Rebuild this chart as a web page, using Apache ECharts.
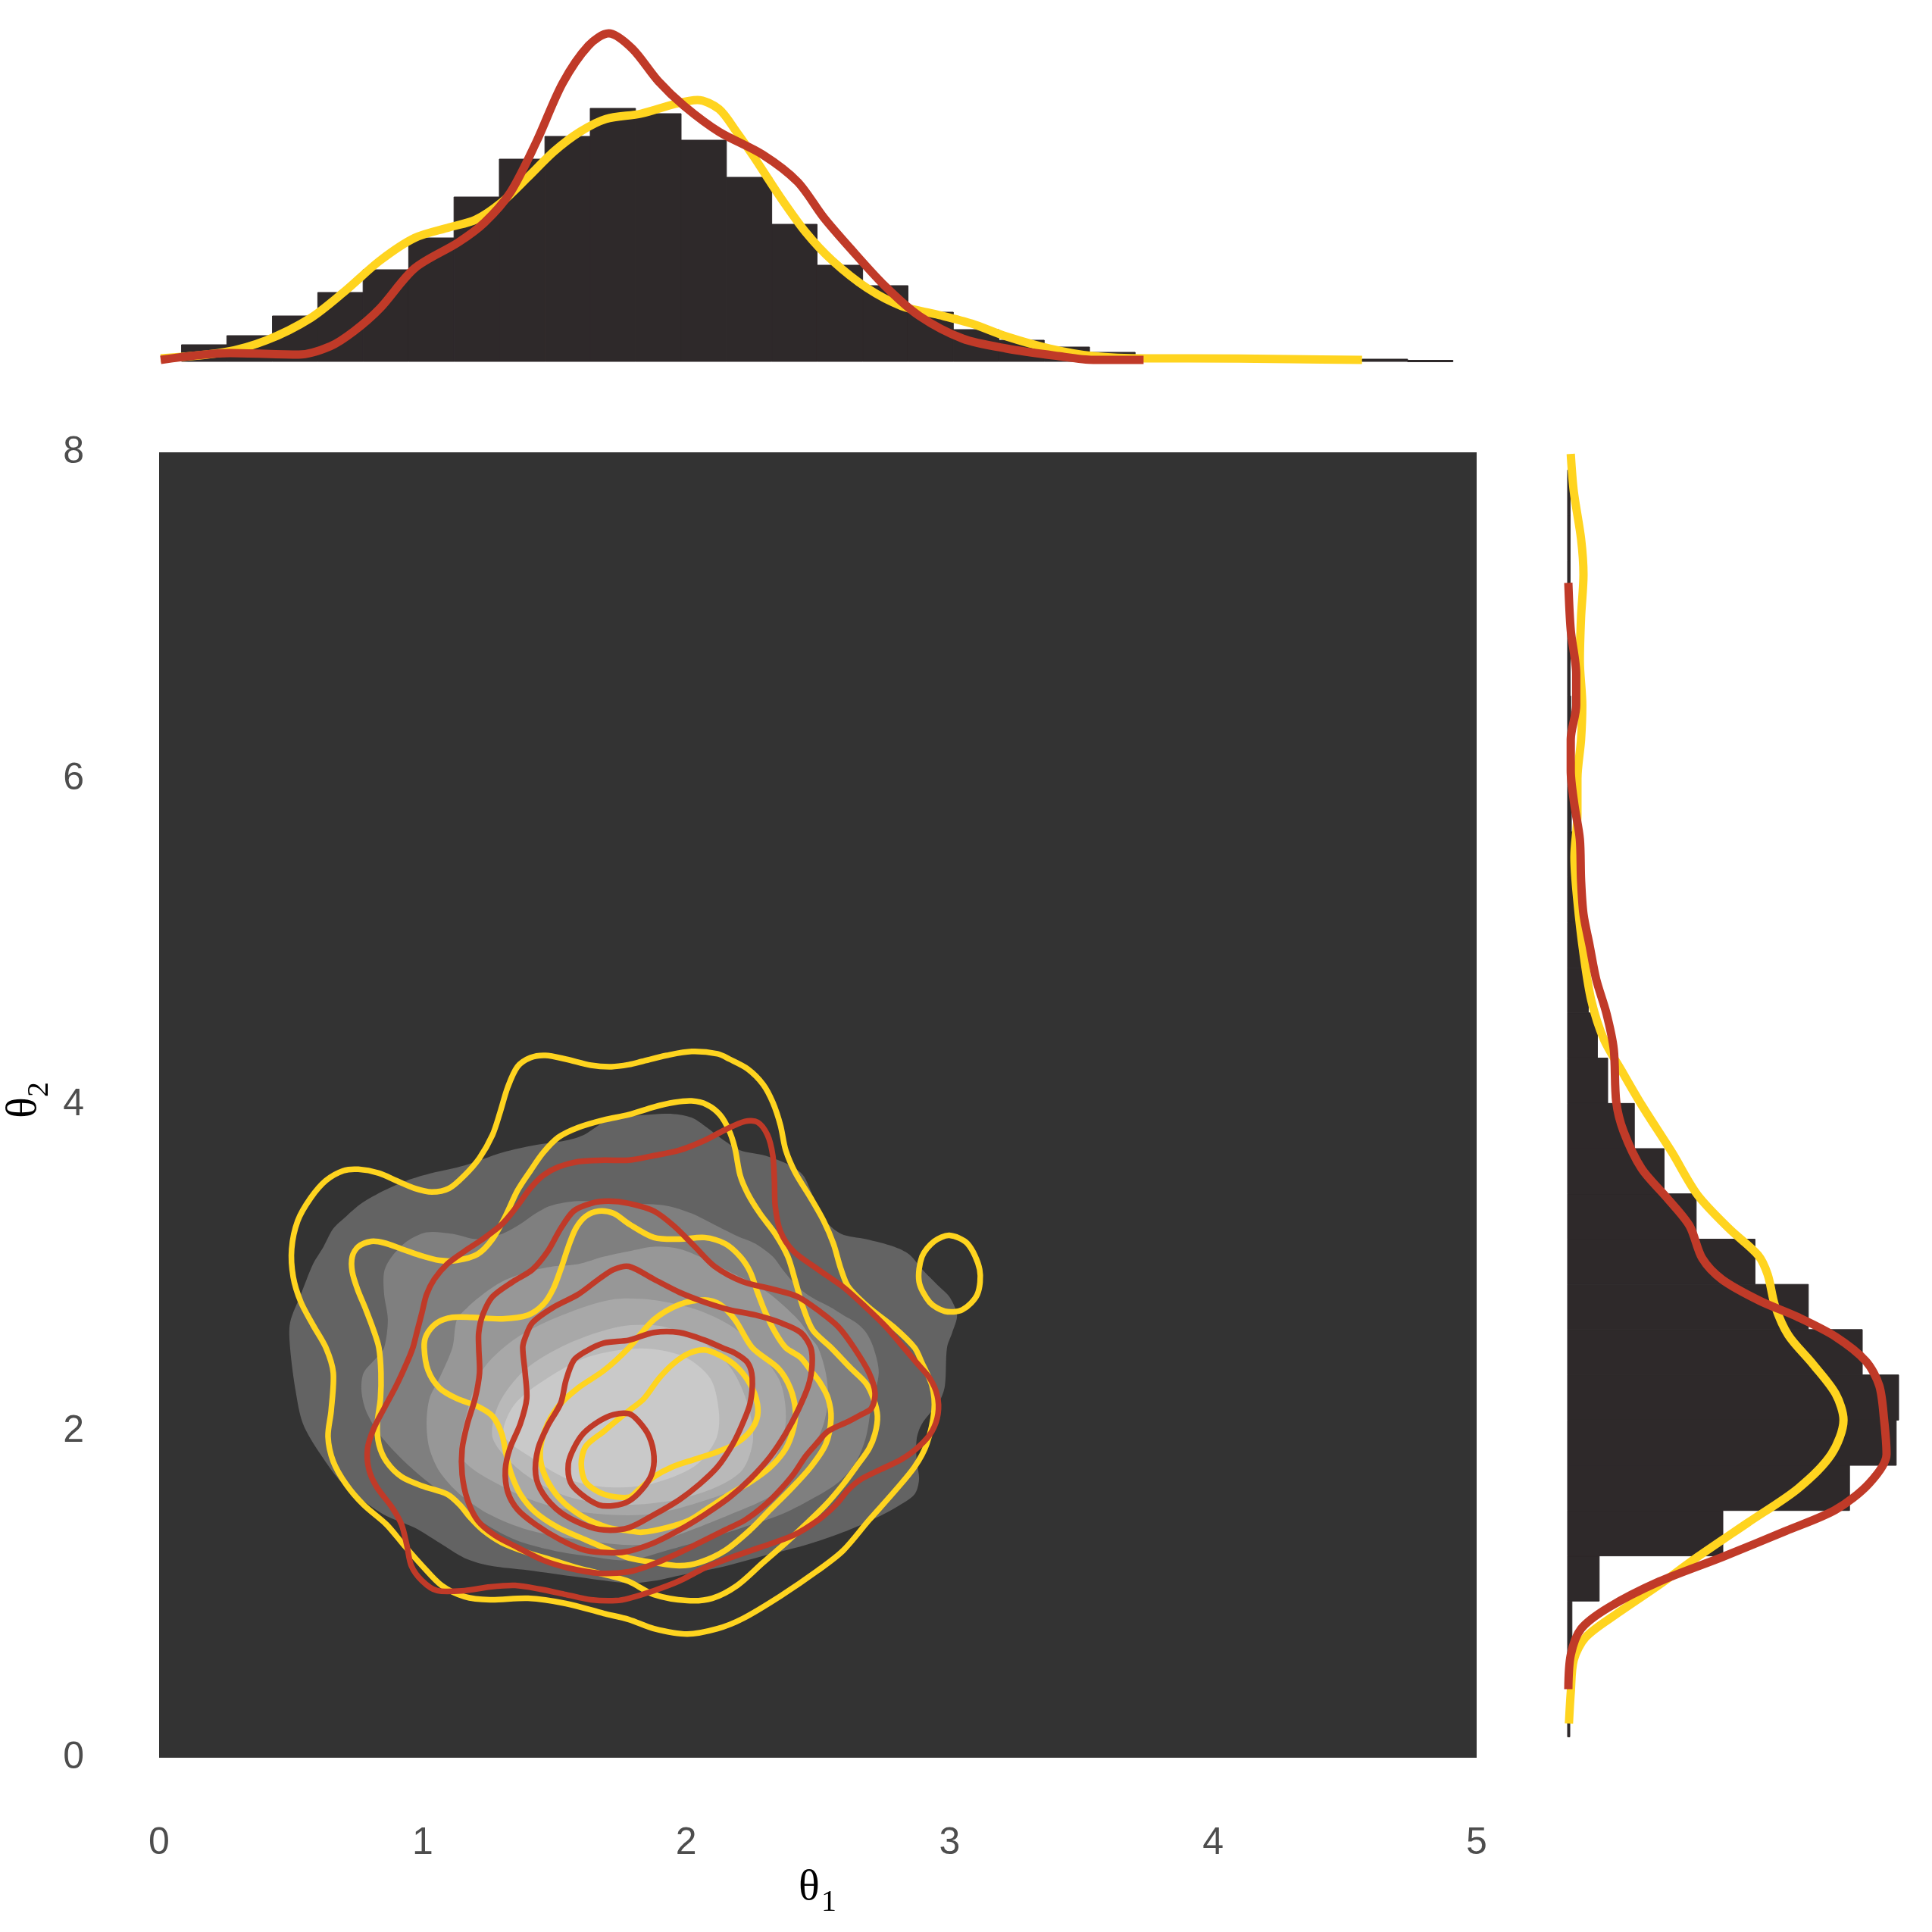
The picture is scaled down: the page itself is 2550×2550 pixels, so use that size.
<!DOCTYPE html>
<html>
<head>
<meta charset="utf-8">
<script src="https://cdn.jsdelivr.net/npm/echarts@6/dist/echarts.min.js"></script>
<style>
  html, body { margin: 0; background: #ffffff; }
  #chart { width: 2550px; height: 2550px; }
</style>
</head>
<body>
<div id="chart"></div>
<script>
// ---- marginal histogram of theta1 (bin edges, density) ----
var topEdges = [0.085, 0.257, 0.430, 0.602, 0.774, 0.947, 1.119, 1.291, 1.464, 1.636, 1.808, 1.981, 2.153, 2.325,
  2.497, 2.670, 2.842, 3.014, 3.187, 3.359, 3.531, 3.704, 3.876, 4.048, 4.221, 4.393, 4.565, 4.738, 4.910]
var topHist = [0.044, 0.068, 0.12, 0.182, 0.242, 0.326, 0.434, 0.534, 0.594, 0.668, 0.654, 0.584, 0.486, 0.362,
  0.254, 0.2, 0.13, 0.084, 0.056, 0.038, 0.024, 0.016, 0.012, 0.008, 0.006, 0.004, 0.006, 0.003]

// ---- density curves for theta1 ----
var topRedX = [0.006, 0.27, 0.53, 0.65, 0.74, 0.838, 0.97, 1.135, 1.234, 1.333, 1.432, 1.531, 1.63, 1.706, 1.795,
  1.894, 1.993, 2.125, 2.29, 2.423, 2.522, 2.621, 2.753, 2.885, 3.05, 3.215, 3.413, 3.545, 3.736]
var topRedY = [0.004, 0.022, 0.018, 0.04, 0.08, 0.14, 0.246, 0.314, 0.366, 0.446, 0.58, 0.734, 0.834, 0.866, 0.826,
  0.74, 0.674, 0.606, 0.546, 0.474, 0.38, 0.3, 0.2, 0.12, 0.06, 0.034, 0.014, 0.004, 0.004]
var topYellowX = [0.006, 0.245, 0.408, 0.574, 0.706, 0.838, 0.97, 1.102, 1.201, 1.3, 1.399, 1.498, 1.597, 1.696,
  1.829, 1.96, 2.043, 2.125, 2.191, 2.257, 2.357, 2.455, 2.555, 2.686, 2.818, 2.951, 3.083, 3.215, 3.38, 3.545,
  3.744, 3.905, 4.29, 4.565]
var topYellowY = [0.008, 0.024, 0.056, 0.114, 0.186, 0.266, 0.326, 0.354, 0.374, 0.42, 0.486, 0.554, 0.606, 0.64,
  0.654, 0.68, 0.69, 0.666, 0.606, 0.54, 0.434, 0.34, 0.266, 0.194, 0.146, 0.124, 0.1, 0.066, 0.034, 0.014,
  0.008, 0.008, 0.006, 0.004]

// ---- marginal histogram of theta2 ----
var rightEdges = [0.128, 0.405, 0.683, 0.960, 1.237, 1.515, 1.792, 2.069, 2.346, 2.624, 2.901, 3.178, 3.456, 3.733,
  4.010, 4.288, 4.565, 4.842, 5.119, 5.397, 5.674, 5.951, 6.229, 6.506, 6.783, 7.060, 7.338, 7.615, 7.892]
var rightHist = [0.0025, 0.004, 0.006, 0.051, 0.255, 0.464, 0.541, 0.545, 0.485, 0.396, 0.308, 0.211, 0.158, 0.109,
  0.065, 0.048, 0.033, 0.023, 0.013, 0.008, 0.005, 0.004, 0.004, 0.003, 0.003, 0.003, 0.003, 0.003]

// ---- density curves for theta2 ----
var rightYellowY = [0.21, 0.40, 0.60, 0.74, 0.88, 1.06, 1.23, 1.44, 1.65, 1.86, 2.07, 2.23, 2.41, 2.59, 2.77, 2.96,
  3.08, 3.24, 3.45, 3.71, 4.00, 4.21, 4.40, 4.64, 4.93, 5.25, 5.52, 5.78, 6.00, 6.24, 6.45, 6.72, 6.99, 7.25, 7.47,
  7.76, 7.99]
var rightYellowX = [0.001, 0.004, 0.009, 0.029, 0.079, 0.15, 0.213, 0.296, 0.379, 0.434, 0.454, 0.441, 0.404, 0.363,
  0.341, 0.329, 0.313, 0.266, 0.213, 0.171, 0.121, 0.088, 0.059, 0.038, 0.025, 0.015, 0.01, 0.015, 0.015, 0.021,
  0.023, 0.019, 0.021, 0.025, 0.021, 0.009, 0.004]
var rightRedY = [0.42, 0.63, 0.79, 0.92, 1.08, 1.23, 1.39, 1.52, 1.68, 1.86, 2.07, 2.28, 2.43, 2.58, 2.70, 2.80, 2.93,
  3.06, 3.26, 3.43, 3.61, 3.84, 4.02, 4.34, 4.56, 4.77, 4.98, 5.17, 5.38, 5.63, 5.84, 6.05, 6.24, 6.45, 6.64, 6.91,
  7.20]
var rightRedX = [0, 0.004, 0.021, 0.066, 0.15, 0.254, 0.359, 0.441, 0.496, 0.525, 0.521, 0.513, 0.491, 0.441, 0.379,
  0.316, 0.254, 0.221, 0.2, 0.163, 0.121, 0.091, 0.079, 0.075, 0.063, 0.046, 0.035, 0.025, 0.021, 0.019, 0.01,
  0.004, 0.004, 0.013, 0.013, 0.004, 0]

// ---- filled density contours (theta1, theta2), outer to inner ----
var fillLevel1 = [[1.783, 3.932], [1.947, 3.946], [2.021, 3.923], [2.079, 3.862], [2.128, 3.802], [2.205, 3.723],
  [2.300, 3.690], [2.395, 3.630], [2.444, 3.569], [2.481, 3.443], [2.522, 3.304], [2.588, 3.211], [2.683, 3.178],
  [2.789, 3.132], [2.846, 3.085], [2.904, 2.978], [2.953, 2.899], [2.999, 2.825], [3.028, 2.713], [3.010, 2.606],
  [2.990, 2.513], [2.982, 2.280], [2.962, 2.187], [2.895, 2.047], [2.875, 1.954], [2.875, 1.815], [2.884, 1.708],
  [2.867, 1.615], [2.798, 1.536], [2.703, 1.456], [2.596, 1.382], [2.453, 1.303], [2.263, 1.224], [2.119, 1.163],
  [1.975, 1.117], [1.878, 1.084], [1.783, 1.070], [1.590, 1.107], [1.400, 1.149], [1.256, 1.177], [1.159, 1.224],
  [1.064, 1.317], [0.969, 1.410], [0.871, 1.475], [0.796, 1.550], [0.699, 1.675], [0.612, 1.861], [0.546, 2.047],
  [0.518, 2.248], [0.497, 2.513], [0.497, 2.666], [0.538, 2.839], [0.584, 3.025], [0.624, 3.132], [0.661, 3.243],
  [0.710, 3.318], [0.768, 3.397], [0.854, 3.476], [0.940, 3.537], [1.035, 3.583], [1.159, 3.630], [1.302, 3.709],
  [1.429, 3.755], [1.544, 3.783], [1.610, 3.816], [1.668, 3.876], [1.717, 3.923]]
var fillLevel2 = [[0.854, 2.513], [0.868, 2.685], [0.854, 2.839], [0.854, 2.978], [0.883, 3.071], [0.940, 3.164],
  [1.015, 3.220], [1.113, 3.211], [1.208, 3.178], [1.302, 3.211], [1.371, 3.271], [1.429, 3.336], [1.486, 3.383],
  [1.590, 3.411], [1.783, 3.397], [1.926, 3.383], [2.021, 3.336], [2.119, 3.257], [2.194, 3.197], [2.263, 3.150],
  [2.329, 3.071], [2.366, 2.992], [2.415, 2.899], [2.473, 2.825], [2.550, 2.759], [2.596, 2.713], [2.645, 2.666],
  [2.683, 2.606], [2.711, 2.513], [2.731, 2.359], [2.703, 2.154], [2.683, 1.968], [2.645, 1.815], [2.579, 1.689],
  [2.473, 1.582], [2.358, 1.489], [2.214, 1.410], [2.070, 1.336], [1.926, 1.270], [1.783, 1.210], [1.639, 1.233],
  [1.495, 1.270], [1.351, 1.336], [1.228, 1.443], [1.113, 1.582], [1.006, 1.708], [0.911, 1.847], [0.834, 1.987],
  [0.785, 2.127], [0.768, 2.248], [0.776, 2.359], [0.825, 2.452]]
var fillLevel3 = [[1.113, 2.513], [1.130, 2.685], [1.170, 2.759], [1.228, 2.839], [1.302, 2.918], [1.400, 2.978],
  [1.495, 3.011], [1.590, 3.025], [1.688, 3.071], [1.783, 3.104], [1.878, 3.132], [1.975, 3.118], [2.070, 3.057],
  [2.165, 2.978], [2.263, 2.899], [2.320, 2.839], [2.378, 2.759], [2.435, 2.666], [2.473, 2.573], [2.501, 2.513],
  [2.530, 2.359], [2.539, 2.201], [2.522, 2.047], [2.481, 1.894], [2.424, 1.754], [2.358, 1.643], [2.280, 1.568],
  [2.165, 1.489], [2.021, 1.396], [1.878, 1.317], [1.783, 1.303], [1.590, 1.336], [1.400, 1.396], [1.256, 1.489],
  [1.141, 1.615], [1.064, 1.754], [1.026, 1.894], [1.015, 2.047], [1.026, 2.201], [1.064, 2.327]]
var fillLevel4 = [[1.147, 1.843], [1.167, 2.108], [1.228, 2.378], [1.348, 2.564], [1.509, 2.699], [1.711, 2.806],
  [1.872, 2.806], [2.033, 2.750], [2.174, 2.643], [2.277, 2.485], [2.358, 2.299], [2.378, 2.057], [2.338, 1.843],
  [2.234, 1.684], [2.073, 1.577], [1.872, 1.494], [1.671, 1.494], [1.469, 1.550], [1.308, 1.657]]
var fillLevel5 = [[1.268, 1.950], [1.288, 2.164], [1.389, 2.378], [1.550, 2.536], [1.751, 2.643], [1.912, 2.643],
  [2.073, 2.536], [2.174, 2.378], [2.234, 2.164], [2.254, 1.950], [2.214, 1.764], [2.113, 1.657], [1.952, 1.577],
  [1.751, 1.550], [1.550, 1.601], [1.389, 1.736]]
var fillLevel6 = [[1.308, 1.978], [1.348, 2.164], [1.469, 2.322], [1.630, 2.457], [1.832, 2.508], [1.993, 2.457],
  [2.093, 2.322], [2.125, 2.108], [2.113, 1.950], [2.033, 1.787], [1.872, 1.680], [1.711, 1.657], [1.550, 1.708],
  [1.409, 1.843]]

// ---- yellow contour lines ----
var yellowLine1 = [[1.783, 4.248], [1.717, 4.235], [1.639, 4.244], [1.544, 4.281], [1.466, 4.304], [1.409, 4.290],
  [1.360, 4.235], [1.323, 4.109], [1.294, 3.955], [1.265, 3.816], [1.216, 3.676], [1.159, 3.569], [1.101, 3.490],
  [1.035, 3.467], [0.969, 3.490], [0.900, 3.537], [0.834, 3.583], [0.756, 3.606], [0.699, 3.597], [0.633, 3.537],
  [0.575, 3.430], [0.526, 3.290], [0.503, 3.118], [0.509, 2.946], [0.538, 2.792], [0.584, 2.652], [0.633, 2.513],
  [0.661, 2.359], [0.653, 2.127], [0.641, 1.968], [0.661, 1.815], [0.710, 1.675], [0.776, 1.550], [0.863, 1.429],
  [0.929, 1.303], [0.998, 1.177], [1.072, 1.056], [1.159, 0.987], [1.256, 0.968], [1.400, 0.977], [1.544, 0.945],
  [1.688, 0.884], [1.783, 0.847], [1.878, 0.791], [2.004, 0.758], [2.119, 0.791], [2.214, 0.852], [2.358, 0.991],
  [2.501, 1.149], [2.596, 1.270], [2.694, 1.456], [2.789, 1.629], [2.867, 1.782], [2.913, 1.922], [2.941, 2.127],
  [2.933, 2.280], [2.895, 2.420], [2.867, 2.513], [2.789, 2.638], [2.694, 2.759], [2.616, 2.885], [2.588, 2.992],
  [2.559, 3.150], [2.522, 3.290], [2.473, 3.430], [2.415, 3.583], [2.378, 3.723], [2.358, 3.876], [2.329, 4.016],
  [2.292, 4.127], [2.234, 4.221], [2.165, 4.281], [2.119, 4.314], [2.021, 4.328], [1.926, 4.304], [1.832, 4.267]]
var yellowIsland = [[2.999, 3.201], [3.068, 3.150], [3.114, 2.992], [3.105, 2.839], [3.048, 2.745], [2.982, 2.736],
  [2.924, 2.792], [2.884, 2.918], [2.895, 3.071], [2.941, 3.164]]
var yellowLine2 = [[1.783, 3.941], [1.688, 3.909], [1.590, 3.862], [1.515, 3.802], [1.458, 3.709], [1.409, 3.597],
  [1.360, 3.476], [1.314, 3.318], [1.265, 3.178], [1.208, 3.085], [1.130, 3.048], [1.064, 3.048], [0.986, 3.081],
  [0.920, 3.118], [0.854, 3.155], [0.805, 3.164], [0.756, 3.132], [0.733, 3.071], [0.733, 2.978], [0.753, 2.871],
  [0.785, 2.745], [0.814, 2.620], [0.834, 2.513], [0.842, 2.359], [0.840, 2.201], [0.828, 2.047], [0.834, 1.922],
  [0.863, 1.815], [0.920, 1.722], [0.998, 1.666], [1.093, 1.615], [1.141, 1.550], [1.179, 1.475], [1.228, 1.396],
  [1.302, 1.317], [1.400, 1.256], [1.495, 1.210], [1.590, 1.163], [1.705, 1.117], [1.783, 1.080], [1.878, 1.000],
  [2.004, 0.963], [2.099, 0.977], [2.194, 1.056], [2.292, 1.196], [2.378, 1.317], [2.453, 1.429], [2.530, 1.550],
  [2.596, 1.675], [2.645, 1.782], [2.694, 1.894], [2.717, 1.987], [2.726, 2.094], [2.711, 2.201], [2.683, 2.294],
  [2.625, 2.387], [2.550, 2.513], [2.481, 2.620], [2.444, 2.759], [2.415, 2.918], [2.386, 3.071], [2.338, 3.211],
  [2.280, 3.336], [2.234, 3.457], [2.205, 3.569], [2.185, 3.737], [2.162, 3.848], [2.128, 3.941], [2.079, 4.002],
  [2.021, 4.025], [1.955, 4.016], [1.878, 3.988]]
var yellowLine3 = [[1.783, 3.271], [1.725, 3.336], [1.668, 3.350], [1.619, 3.318], [1.581, 3.243], [1.553, 3.132],
  [1.524, 2.992], [1.495, 2.871], [1.458, 2.778], [1.400, 2.713], [1.302, 2.690], [1.187, 2.699], [1.113, 2.699],
  [1.055, 2.666], [1.015, 2.592], [1.006, 2.513], [1.021, 2.373], [1.064, 2.266], [1.130, 2.201], [1.208, 2.154],
  [1.265, 2.094], [1.300, 1.987], [1.317, 1.861], [1.337, 1.736], [1.371, 1.615], [1.429, 1.503], [1.515, 1.410],
  [1.619, 1.335], [1.734, 1.256], [1.783, 1.224], [1.878, 1.196], [1.975, 1.177], [2.050, 1.196], [2.148, 1.270],
  [2.243, 1.396], [2.320, 1.522], [2.395, 1.643], [2.473, 1.782], [2.530, 1.922], [2.550, 2.080], [2.539, 2.201],
  [2.510, 2.294], [2.473, 2.373], [2.435, 2.452], [2.378, 2.513], [2.338, 2.606], [2.300, 2.731], [2.271, 2.852],
  [2.243, 2.978], [2.205, 3.071], [2.148, 3.150], [2.070, 3.188], [1.975, 3.178], [1.878, 3.188]]
var yellowLine4 = [[1.783, 2.513], [1.878, 2.685], [1.975, 2.778], [2.070, 2.806], [2.128, 2.778], [2.185, 2.685],
  [2.251, 2.513], [2.349, 2.387], [2.395, 2.266], [2.415, 2.127], [2.407, 2.015], [2.378, 1.894], [2.320, 1.782],
  [2.243, 1.689], [2.165, 1.615], [2.090, 1.536], [2.013, 1.456], [1.926, 1.410], [1.832, 1.382], [1.783, 1.391],
  [1.705, 1.410], [1.610, 1.475], [1.524, 1.582], [1.466, 1.722], [1.446, 1.861], [1.466, 2.015], [1.515, 2.154],
  [1.590, 2.266], [1.688, 2.373]]
var yellowLine5 = [[1.783, 2.127], [1.840, 2.201], [1.898, 2.327], [1.955, 2.420], [2.013, 2.480], [2.070, 2.499],
  [2.128, 2.466], [2.185, 2.406], [2.234, 2.313], [2.266, 2.201], [2.271, 2.094], [2.243, 2.001], [2.185, 1.922],
  [2.119, 1.875], [2.033, 1.829], [1.947, 1.782], [1.878, 1.722], [1.820, 1.643], [1.783, 1.596], [1.688, 1.615],
  [1.619, 1.689], [1.602, 1.801], [1.619, 1.908], [1.688, 2.001], [1.740, 2.071]]

// ---- red contour lines ----
var redLine1 = [[1.783, 3.662], [1.688, 3.662], [1.590, 3.653], [1.515, 3.620], [1.458, 3.569], [1.409, 3.490],
  [1.360, 3.383], [1.302, 3.271], [1.228, 3.178], [1.159, 3.104], [1.093, 3.025], [1.044, 2.932], [1.015, 2.839],
  [0.998, 2.731], [0.978, 2.606], [0.963, 2.513], [0.940, 2.420], [0.900, 2.280], [0.854, 2.141], [0.814, 2.015],
  [0.791, 1.894], [0.796, 1.768], [0.825, 1.661], [0.883, 1.536], [0.920, 1.429], [0.940, 1.303], [0.957, 1.177],
  [0.998, 1.084], [1.055, 1.024], [1.159, 1.024], [1.256, 1.047], [1.351, 1.056], [1.446, 1.033], [1.544, 1.000],
  [1.639, 0.968], [1.734, 0.963], [1.783, 0.977], [1.878, 1.024], [1.975, 1.084], [2.070, 1.163], [2.165, 1.224],
  [2.280, 1.289], [2.407, 1.363], [2.501, 1.456], [2.568, 1.550], [2.616, 1.643], [2.665, 1.708], [2.740, 1.768],
  [2.818, 1.829], [2.884, 1.908], [2.933, 2.001], [2.956, 2.108], [2.953, 2.220], [2.924, 2.327], [2.875, 2.420],
  [2.826, 2.513], [2.760, 2.638], [2.683, 2.759], [2.596, 2.885], [2.501, 2.992], [2.407, 3.104], [2.358, 3.225],
  [2.338, 3.383], [2.335, 3.537], [2.329, 3.690], [2.309, 3.816], [2.271, 3.895], [2.223, 3.900], [2.148, 3.848],
  [2.070, 3.783], [1.975, 3.723], [1.878, 3.690]]
var redLine2 = [[1.783, 3.397], [1.705, 3.411], [1.639, 3.397], [1.573, 3.350], [1.524, 3.243], [1.475, 3.104],
  [1.417, 2.992], [1.343, 2.918], [1.265, 2.825], [1.228, 2.713], [1.213, 2.606], [1.213, 2.513], [1.216, 2.359],
  [1.199, 2.201], [1.170, 2.047], [1.150, 1.894], [1.150, 1.736], [1.170, 1.582], [1.208, 1.456], [1.274, 1.363],
  [1.360, 1.289], [1.458, 1.210], [1.553, 1.163], [1.668, 1.131], [1.783, 1.140], [1.860, 1.177], [1.955, 1.242],
  [2.050, 1.317], [2.148, 1.396], [2.223, 1.456], [2.300, 1.550], [2.358, 1.643], [2.407, 1.736], [2.453, 1.847],
  [2.493, 1.922], [2.539, 2.001], [2.616, 2.061], [2.665, 2.103], [2.703, 2.141], [2.717, 2.234], [2.694, 2.359],
  [2.637, 2.513], [2.579, 2.638], [2.510, 2.731], [2.424, 2.825], [2.329, 2.871], [2.214, 2.918], [2.108, 3.011],
  [2.033, 3.132], [1.955, 3.257], [1.878, 3.350]]
var redLine3 = [[1.783, 3.011], [1.725, 2.992], [1.668, 2.932], [1.590, 2.839], [1.495, 2.759], [1.417, 2.666],
  [1.389, 2.573], [1.380, 2.513], [1.389, 2.359], [1.395, 2.201], [1.371, 2.047], [1.331, 1.894], [1.314, 1.768],
  [1.323, 1.629], [1.360, 1.522], [1.429, 1.429], [1.524, 1.335], [1.619, 1.270], [1.717, 1.256], [1.783, 1.266],
  [1.878, 1.317], [1.975, 1.396], [2.070, 1.489], [2.165, 1.596], [2.243, 1.708], [2.320, 1.847], [2.378, 1.987],
  [2.424, 2.127], [2.464, 2.280], [2.478, 2.406], [2.473, 2.513], [2.435, 2.606], [2.358, 2.666], [2.263, 2.713],
  [2.165, 2.745], [2.070, 2.792], [1.975, 2.852], [1.878, 2.932]]
var redLine4 = [[1.783, 2.559], [1.688, 2.541], [1.619, 2.490], [1.573, 2.434], [1.544, 2.313], [1.524, 2.173],
  [1.475, 2.034], [1.438, 1.894], [1.429, 1.736], [1.458, 1.615], [1.524, 1.503], [1.610, 1.429], [1.688, 1.396],
  [1.783, 1.410], [1.878, 1.489], [1.975, 1.582], [2.050, 1.675], [2.119, 1.782], [2.177, 1.922], [2.214, 2.047],
  [2.243, 2.173], [2.251, 2.327], [2.234, 2.420], [2.185, 2.480], [2.136, 2.513], [2.070, 2.559], [1.975, 2.606],
  [1.878, 2.606]]
var redLine5 = [[1.783, 2.108], [1.820, 2.061], [1.860, 1.968], [1.878, 1.847], [1.869, 1.736], [1.832, 1.643],
  [1.783, 1.573], [1.725, 1.545], [1.668, 1.550], [1.602, 1.615], [1.561, 1.689], [1.553, 1.801], [1.573, 1.894],
  [1.610, 1.987], [1.668, 2.061], [1.725, 2.103]]

var fills = [fillLevel1, fillLevel2, fillLevel3, fillLevel4, fillLevel5, fillLevel6]
var fillColors = ['#636363', '#7f7f7f', '#979797', '#a8a8a8', '#b9b9b9', '#c9c9c9']
var yellowLines = [yellowLine1, yellowIsland, yellowLine2, yellowLine3, yellowLine4, yellowLine5]
var redLines = [redLine1, redLine2, redLine3, redLine4, redLine5]

var YELLOW = '#ffd41f'
var RED = '#c03a28'
var BAR = '#2e292a'

function zip (a, b) {
  return a.map(function (v, i) { return [v, b[i]] })
}

function polygonSeries (list, z, styleOf) {
  return {
    type: 'custom',
    xAxisIndex: 0,
    yAxisIndex: 0,
    z: z,
    data: list.map(function (c) { return c[0] }),
    renderItem: function (params, api) {
      var pts = list[params.dataIndex].map(function (p) { return api.coord(p) })
      return {
        type: 'polygon',
        shape: { points: pts, smooth: 0.3 },
        style: styleOf(params.dataIndex)
      }
    }
  }
}

var chart = echarts.init(document.getElementById('chart'))

chart.setOption({
  animation: false,
  backgroundColor: '#ffffff',
  grid: [
    { left: 210, top: 597, width: 1739, height: 1723, show: true, backgroundColor: '#333333', borderWidth: 0, outerBoundsMode: 'none' },
    { left: 210, top: 27, width: 1739, height: 450, outerBoundsMode: 'none' },
    { left: 2070, top: 597, width: 480, height: 1723, outerBoundsMode: 'none' }
  ],
  xAxis: [
    {
      type: 'value', gridIndex: 0, min: 0, max: 5, interval: 1,
      axisLine: { show: false }, axisTick: { show: false }, splitLine: { show: false },
      axisLabel: { color: '#4d4d4d', fontSize: 50, fontFamily: 'Liberation Sans', margin: 88 }
    },
    { type: 'value', gridIndex: 1, min: 0, max: 5, show: false },
    { type: 'value', gridIndex: 2, min: 0, max: 0.6, show: false }
  ],
  yAxis: [
    {
      type: 'value', gridIndex: 0, min: 0, max: 8, interval: 2,
      axisLine: { show: false }, axisTick: { show: false }, splitLine: { show: false },
      axisLabel: { color: '#4d4d4d', fontSize: 50, fontFamily: 'Liberation Sans', margin: 99 }
    },
    { type: 'value', gridIndex: 1, min: 0, max: 0.9, show: false },
    { type: 'value', gridIndex: 2, min: 0, max: 8, show: false }
  ],
  graphic: [
    { type: 'text', x: 1068, y: 2492, style: { text: 'θ', font: '58px "Liberation Serif"', fill: '#000', align: 'center', verticalAlign: 'middle', textAlign: 'center', textVerticalAlign: 'middle' } },
    { type: 'text', x: 1094, y: 2511, style: { text: '1', font: '40px "Liberation Serif"', fill: '#000', align: 'center', verticalAlign: 'middle', textAlign: 'center', textVerticalAlign: 'middle' } },
    { type: 'text', x: 32, y: 1462, rotation: Math.PI / 2, style: { text: 'θ', font: '58px "Liberation Serif"', fill: '#000', align: 'center', verticalAlign: 'middle', textAlign: 'center', textVerticalAlign: 'middle' } },
    { type: 'text', x: 52, y: 1438, rotation: Math.PI / 2, style: { text: '2', font: '40px "Liberation Serif"', fill: '#000', align: 'center', verticalAlign: 'middle', textAlign: 'center', textVerticalAlign: 'middle' } }
  ],
  series: [
    polygonSeries(fills, 1, function (i) { return { fill: fillColors[i], stroke: null } }),
    polygonSeries(yellowLines, 2, function () { return { fill: 'none', stroke: YELLOW, lineWidth: 7.5 } }),
    polygonSeries(redLines, 3, function () { return { fill: 'none', stroke: RED, lineWidth: 7.5 } }),
    {
      type: 'custom',
      xAxisIndex: 1,
      yAxisIndex: 1,
      z: 1,
      data: topHist.map(function (h, i) { return [topEdges[i], h, topEdges[i + 1]] }),
      renderItem: function (params, api) {
        var p0 = api.coord([api.value(0), 0])
        var p1 = api.coord([api.value(2), api.value(1)])
        return {
          type: 'rect',
          shape: { x: p0[0], y: p1[1], width: p1[0] - p0[0], height: Math.max(p0[1] - p1[1], 2) },
          style: { fill: BAR, stroke: BAR, lineWidth: 1 }
        }
      }
    },
    {
      type: 'line', xAxisIndex: 1, yAxisIndex: 1, z: 2, symbol: 'none', smooth: 0.3, clip: false,
      lineStyle: { color: YELLOW, width: 11, cap: 'butt' },
      data: zip(topYellowX, topYellowY)
    },
    {
      type: 'line', xAxisIndex: 1, yAxisIndex: 1, z: 3, symbol: 'none', smooth: 0.3, clip: false,
      lineStyle: { color: RED, width: 11, cap: 'butt' },
      data: zip(topRedX, topRedY)
    },
    {
      type: 'custom',
      xAxisIndex: 2,
      yAxisIndex: 2,
      z: 1,
      data: rightHist.map(function (w, i) { return [w, rightEdges[i], rightEdges[i + 1]] }),
      renderItem: function (params, api) {
        var p0 = api.coord([0, api.value(1)])
        var p1 = api.coord([api.value(0), api.value(2)])
        return {
          type: 'rect',
          shape: { x: p0[0] - 1, y: p1[1], width: Math.max(p1[0] - p0[0], 2) + 1, height: p0[1] - p1[1] },
          style: { fill: BAR, stroke: BAR, lineWidth: 1 }
        }
      }
    },
    {
      type: 'line', xAxisIndex: 2, yAxisIndex: 2, z: 2, symbol: 'none', smooth: 0.3, clip: false,
      lineStyle: { color: YELLOW, width: 11, cap: 'butt' },
      data: zip(rightYellowX, rightYellowY)
    },
    {
      type: 'line', xAxisIndex: 2, yAxisIndex: 2, z: 3, symbol: 'none', smooth: 0.3, clip: false,
      lineStyle: { color: RED, width: 11, cap: 'butt' },
      data: zip(rightRedX, rightRedY)
    }
  ]
})
</script>
</body>
</html>
